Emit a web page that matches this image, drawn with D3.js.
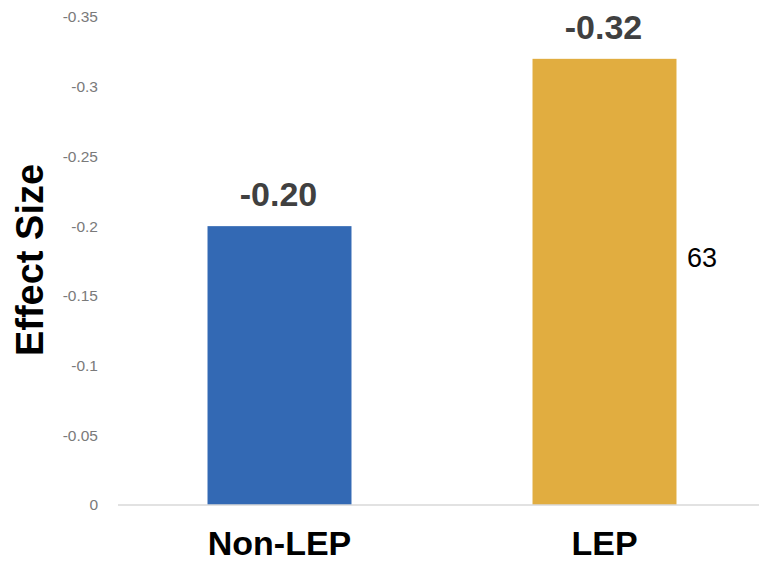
<!DOCTYPE html>
<html>
<head>
<meta charset="utf-8">
<script src="https://cdn.jsdelivr.net/npm/d3@7"></script>
<style>
  body { margin: 0; background: #fff; }
  svg { display: block; font-family: "Liberation Sans", Arial, sans-serif; }
</style>
</head>
<body>
<svg id="chart"></svg>
<script>
// chart data
var categories = ["Non-LEP", "LEP"];
var effect_sizes = [-0.20, -0.32];
var value_labels = ["-0.20", "-0.32"];
var bar_colors = ["#3369b4", "#e1ad40"];
var tick_values = [0, -0.05, -0.1, -0.15, -0.2, -0.25, -0.3, -0.35];
var tick_labels = ["0", "-0.05", "-0.1", "-0.15", "-0.2", "-0.25", "-0.3", "-0.35"];
var side_note = "63";

var width = 759, height = 563;

var svg = d3.select("#chart")
    .attr("width", width)
    .attr("height", height);

/** y axis: 0 at the bottom, going up to -0.35 */
const y = d3.scaleLinear()
    .domain([0, -0.35])
    .range([505, 17]);

/** x axis: two bands */
const x = d3.scaleBand()
    .domain(categories)
    .range([117, 767])
    .paddingInner(0.557)
    .paddingOuter(0.2785);

// tick labels on the left (no line, no tick marks)
var yAxis = svg.append("g")
    .attr("transform", "translate(98,0)")
    .call(d3.axisLeft(y)
        .tickValues(tick_values)
        .tickSize(0)
        .tickPadding(0)
        .tickFormat((d, i) => tick_labels[i]));
yAxis.select(".domain").remove();
yAxis.selectAll("text")
    .attr("font-family", "'Liberation Sans', Arial, sans-serif")
    .attr("font-size", 15.5)
    .attr("fill", "#7a7a7a");

// bars
svg.selectAll(".bar")
    .data(effect_sizes)
    .join("rect")
    .attr("class", "bar")
    .attr("x", (d, i) => x(categories[i]))
    .attr("width", x.bandwidth())
    .attr("y", d => y(d))
    .attr("height", d => y(0) - y(d))
    .attr("fill", (d, i) => bar_colors[i]);

// baseline at zero
svg.append("line")
    .attr("x1", 118)
    .attr("x2", width)
    .attr("y1", y(0))
    .attr("y2", y(0))
    .attr("stroke", "#d9d9d9")
    .attr("stroke-width", 1.5);

// value labels over the bars
svg.selectAll(".val_label")
    .data(effect_sizes)
    .join("text")
    .attr("class", "val_label")
    .attr("x", (d, i) => x(categories[i]) + x.bandwidth() / 2 - 1)
    .attr("y", d => y(d) - 20)
    .attr("text-anchor", "middle")
    .attr("font-size", 34)
    .attr("font-weight", "bold")
    .attr("fill", "#404040")
    .text((d, i) => value_labels[i]);

// category labels under the axis
svg.selectAll(".cat_label")
    .data(categories)
    .join("text")
    .attr("class", "cat_label")
    .attr("x", d => x(d) + x.bandwidth() / 2)
    .attr("y", 555)
    .attr("text-anchor", "middle")
    .attr("font-size", 34)
    .attr("font-weight", "bold")
    .attr("fill", "#000")
    .text(d => d);

// y axis title
svg.append("text")
    .attr("transform", "translate(43,260) rotate(-90)")
    .attr("text-anchor", "middle")
    .attr("font-size", 38)
    .attr("font-weight", "bold")
    .attr("fill", "#000")
    .text("Effect Size");

// stray number to the right of the LEP bar
svg.append("text")
    .attr("x", 687)
    .attr("y", 267)
    .attr("font-size", 27)
    .attr("fill", "#000")
    .text(side_note);
</script>
</body>
</html>
